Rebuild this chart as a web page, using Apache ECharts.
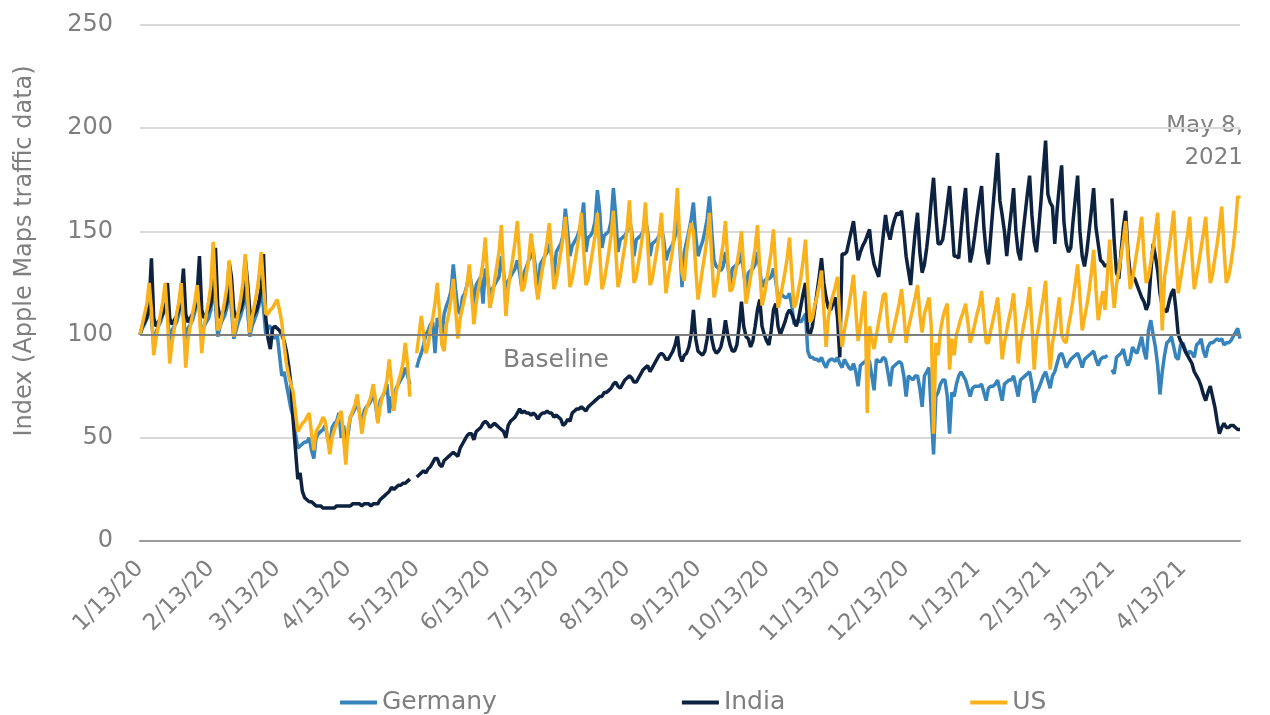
<!DOCTYPE html>
<html>
<head>
<meta charset="utf-8">
<title>Apple Maps driving index</title>
<script src="https://cdn.jsdelivr.net/npm/echarts@6/dist/echarts.min.js"></script>
<style>
  html, body { margin: 0; padding: 0; background: #fff; }
  #chart { width: 1270px; height: 715px; }
</style>
</head>
<body>
<div id="chart"></div>
<script>
// daily labels from 1/13/20 to 5/8/21
const dayCount = 482;
const dates = [];
for (let i = 0; i < dayCount; i++) {
  const d = new Date(2020, 0, 13 + i);
  dates.push((d.getMonth() + 1) + '/' + d.getDate() + '/' + String(d.getFullYear()).slice(2));
}

const seriesNames = ['Germany', 'India', 'US'];
const seriesColors = ['#3784bd', '#0d2240', '#f9b21b'];

// one row per week, Mon..Sun
const germany = [
  100,103,105,108,115,108,95,
  101,104,106,110,118,110,96,
  102,104,106,110,119,110,96,
  103,105,107,111,120,112,98,
  104,106,108,112,124,114,99,
  104,107,109,113,125,112,98,
  102,106,109,113,123,112,99,
  104,107,110,114,122,113,100,
  104,104,100,98,100,90,80,
  82,76,70,64,60,52,45,
  46,47,48,48,50,44,40,
  50,52,53,54,56,50,46,
  55,57,58,62,50,56,48,
  52,60,62,64,68,62,55,
  63,65,66,68,72,66,58,
  68,70,72,76,62,70,64,
  74,76,78,80,84,80,76,
  null,null,84,88,91,95,100,
  102,105,106,91,108,106,100,
  110,114,117,121,134,122,112,
  110,118,120,124,130,124,114,
  124,126,128,115,132,128,118,
  122,124,126,128,138,130,120,
  126,128,130,132,136,130,122,
  130,133,136,138,140,132,118,
  134,136,138,140,144,138,128,
  140,142,144,148,161,150,138,
  143,145,147,150,155,164,140,
  147,148,150,155,170,160,142,
  148,149,150,155,171,158,140,
  146,147,148,150,156,150,138,
  146,147,148,150,156,150,138,
  144,145,146,148,152,146,136,
  140,142,144,148,160,145,123,
  140,145,150,156,164,148,138,
  142,145,150,156,167,150,136,
  133,132,131,133,140,134,124,
  132,133,134,135,140,130,122,
  130,131,132,134,140,132,123,
  126,127,127,128,132,126,118,
  120,119,118,118,120,114,105,
  106,107,106,108,110,92,89,
  89,88,88,87,89,86,84,
  87,88,88,87,89,86,84,
  88,86,84,83,86,82,75,
  85,86,87,88,87,80,73,
  88,87,87,89,88,82,75,
  84,85,86,87,86,80,70,
  80,79,78,80,80,74,65,
  80,82,84,62,42,70,72,
  76,78,78,70,52,72,70,
  76,80,82,80,78,74,70,
  74,75,75,75,76,72,68,
  74,75,75,76,78,73,68,
  76,77,78,78,80,75,70,
  78,79,80,81,82,76,67,
  72,74,77,80,82,78,74,
  80,82,86,90,91,88,84,
  86,88,89,90,91,88,84,
  88,89,90,91,92,88,85,
  88,89,89,90,null,83,81,
  89,90,91,93,88,85,88,
  94,92,91,95,99,92,88,
  102,107,100,94,85,71,82,
  90,96,97,99,94,89,88,
  95,96,93,90,92,91,89,
  95,96,98,92,89,94,96,
  96,97,98,97,98,95,96,
  96,97,99,101,103,98
];

const india = [
  100,104,106,108,115,137,108,
  104,106,108,110,114,125,108,
  105,107,109,112,118,132,110,
  106,108,110,113,120,138,112,
  108,110,112,115,124,142,114,
  108,110,112,116,135,128,112,
  108,110,112,116,137,126,112,
  108,110,112,116,122,139,108,
  98,93,103,104,103,102,100,
  97,92,85,76,58,44,30,
  33,24,21,20,19,19,18,
  17,17,17,16,16,16,16,
  16,16,17,17,17,17,17,
  17,17,18,18,18,18,17,
  18,18,18,17,18,18,18,
  20,21,22,23,24,26,25,
  26,27,27,28,28,29,30,
  null,null,31,32,33,34,33,
  35,36,38,40,40,37,36,
  39,40,41,42,43,42,41,
  45,47,49,51,52,52,49,
  53,54,55,57,58,57,55,
  56,57,56,55,54,53,50,
  56,58,59,60,62,64,62,
  63,62,62,61,62,61,59,
  61,62,62,63,62,62,60,
  61,60,59,56,57,59,58,
  62,63,64,64,65,64,63,
  65,66,67,68,69,70,70,
  72,72,73,74,76,77,75,
  74,76,78,79,80,79,77,
  77,79,81,83,84,85,82,
  84,86,88,90,91,90,88,
  88,90,92,95,100,90,87,
  90,91,94,100,112,98,92,
  91,90,92,98,108,98,93,
  91,92,94,99,107,100,95,
  92,92,95,104,116,104,99,
  98,94,97,104,112,117,104,
  100,97,95,102,112,115,104,
  100,103,106,110,112,110,107,
  104,108,114,120,125,102,100,
  104,112,120,128,137,125,118,
  113,112,115,118,108,89,139,
  139,140,145,150,155,145,136,
  140,143,145,148,151,140,134,
  131,128,138,148,158,150,146,
  152,156,159,158,160,150,138,
  131,124,138,150,159,140,130,
  134,142,152,165,176,158,144,
  144,146,154,163,172,155,138,
  138,137,150,162,171,150,135,
  140,148,157,165,172,152,140,
  134,148,162,175,188,165,158,
  150,138,150,160,171,150,140,
  136,148,158,168,177,158,145,
  140,152,165,180,194,168,164,
  162,144,160,172,182,155,144,
  140,142,155,166,177,150,138,
  133,140,150,160,171,152,144,
  136,135,133,134,null,166,145,
  130,127,140,152,160,140,129,
  128,127,124,121,118,116,112,
  115,130,144,138,131,120,114,
  112,111,116,120,122,112,100,
  97,95,92,90,88,86,82,
  80,78,75,71,68,72,75,
  70,65,58,52,55,57,55,
  55,56,56,55,54,54
];

const us = [
  100,105,110,115,125,112,90,
  98,104,110,116,125,108,86,
  96,103,110,116,125,106,84,
  98,104,110,116,124,110,91,
  104,110,116,124,145,120,102,
  104,110,116,123,136,118,99,
  105,111,117,125,139,120,101,
  108,114,120,128,140,124,110,
  110,112,113,115,117,112,106,
  95,86,80,76,72,62,53,
  55,57,58,60,62,52,44,
  53,55,57,60,58,50,42,
  50,54,57,60,63,50,37,
  55,60,63,66,71,62,52,
  60,64,67,70,76,68,57,
  65,70,73,78,88,76,63,
  72,77,81,86,96,86,70,
  null,null,91,100,109,100,91,
  95,103,108,115,125,110,95,
  92,105,110,117,127,112,98,
  108,113,118,124,134,120,105,
  115,122,128,135,147,128,113,
  118,126,133,140,153,130,109,
  122,130,137,145,155,138,121,
  123,130,137,149,140,125,117,
  125,132,138,145,154,138,122,
  126,133,140,147,157,140,123,
  127,134,141,148,159,141,124,
  127,134,141,148,159,140,122,
  126,133,140,148,160,141,123,
  128,136,143,151,165,145,125,
  128,135,142,150,164,144,124,
  127,134,141,148,159,138,120,
  128,135,142,155,171,145,130,
  126,140,148,154,150,132,117,
  124,132,139,147,159,137,118,
  123,130,137,144,155,136,121,
  122,128,134,141,150,132,115,
  121,128,135,142,153,132,114,
  119,126,133,140,151,131,113,
  118,124,130,137,147,129,113,
  116,122,128,136,146,124,106,
  108,114,118,124,131,112,94,
  108,115,119,123,128,108,94,
  102,108,114,121,129,112,97,
  104,114,121,62,104,98,93,
  100,106,112,119,120,104,96,
  100,105,110,115,122,110,96,
  103,108,113,118,124,110,101,
  110,114,118,104,52,96,90,
  102,108,112,115,83,98,90,
  100,104,108,111,115,106,96,
  100,105,110,114,121,108,96,
  96,102,107,112,118,104,88,
  96,102,108,113,120,104,86,
  96,102,108,114,123,105,83,
  98,104,111,118,126,100,83,
  96,102,110,118,100,97,96,
  104,110,117,125,134,118,102,
  108,114,121,130,141,122,107,
  114,121,112,128,146,126,113,
  124,131,138,146,155,136,122,
  127,134,141,148,157,138,125,
  128,135,142,150,159,135,102,
  128,135,142,150,160,138,120,
  127,134,141,148,157,138,122,
  128,135,142,149,157,139,125,
  129,137,144,152,162,142,125,
  128,134,142,152,167,166
];

const seriesData = [germany, india, us];

const gray = '#7f7f7f';
const fontFamily = '"DejaVu Sans", sans-serif';

const chart = echarts.init(document.getElementById('chart'));

const option = {
  animation: false,
  backgroundColor: '#ffffff',
  grid: { left: 140, right: 30, top: 25, bottom: 174 },
  xAxis: {
    type: 'category',
    data: dates,
    boundaryGap: false,
    axisLine: { lineStyle: { color: '#9a9a9a', width: 2 } },
    axisTick: { show: false },
    axisLabel: {
      interval: (idx, val) => val.split('/')[1] === '13',
      rotate: 45,
      margin: 24,
      color: gray,
      fontSize: 23,
      fontFamily
    },
    splitLine: { show: false }
  },
  yAxis: {
    type: 'value',
    min: 0,
    max: 250,
    interval: 50,
    axisLine: { show: false },
    axisTick: { show: false },
    axisLabel: { margin: 27, color: gray, fontSize: 24, fontFamily },
    splitLine: { lineStyle: { color: '#d9d9d9', width: 2 } }
  },
  legend: {
    data: seriesNames,
    left: 340,
    top: 690,
    padding: 0,
    itemGap: 185,
    itemWidth: 37,
    itemHeight: 4,
    icon: 'rect',
    textStyle: { color: gray, fontSize: 25, fontFamily }
  },
  graphic: [
    {
      type: 'text', x: 25, y: 251, rotation: Math.PI / 2,
      style: {
        text: 'Index (Apple Maps traffic data)', fill: gray,
        font: '24px "DejaVu Sans", sans-serif',
        textAlign: 'center', textVerticalAlign: 'middle'
      }
    },
    {
      type: 'text', x: 556, y: 360,
      style: {
        text: 'Baseline', fill: gray,
        font: '25px "DejaVu Sans", sans-serif',
        textAlign: 'center', textVerticalAlign: 'middle'
      }
    },
    {
      type: 'text', x: 1243, y: 110,
      style: {
        text: 'May 8,\n2021', fill: gray, lineHeight: 32,
        font: '23px "DejaVu Sans", sans-serif',
        textAlign: 'right', textVerticalAlign: 'top'
      }
    }
  ],
  series: seriesNames.map((name, i) => {
    const s = {
      name,
      type: 'line',
      data: seriesData[i],
      showSymbol: false,
      symbol: 'none',
      connectNulls: false,
      lineStyle: { width: 3.5, color: seriesColors[i] },
      itemStyle: { color: seriesColors[i] }
    };
    if (name === 'US') {
      s.markLine = {
        silent: true,
        symbol: 'none',
        label: { show: false },
        lineStyle: { color: gray, width: 2, type: 'solid' },
        data: [{ yAxis: 100 }]
      };
    }
    return s;
  })
};

chart.setOption(option);
</script>
</body>
</html>
